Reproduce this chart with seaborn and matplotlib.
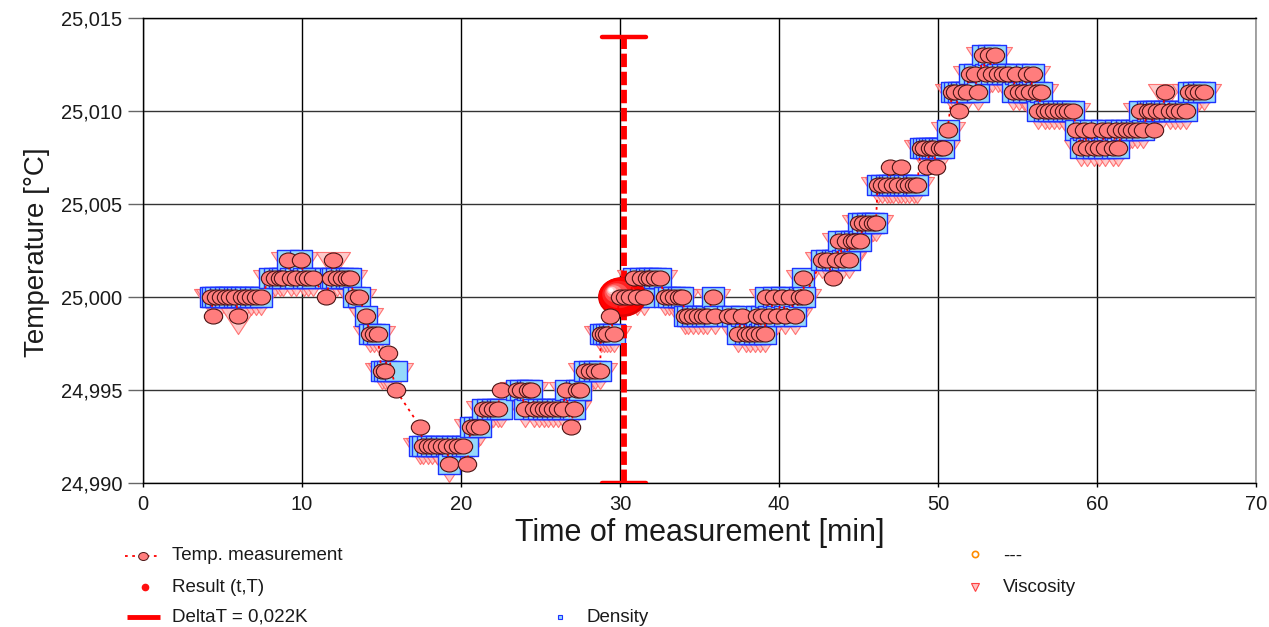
import numpy as np
import matplotlib
matplotlib.use("Agg")
import matplotlib.pyplot as plt
from matplotlib.path import Path
from matplotlib.transforms import offset_copy
import seaborn as sns

# ------------------------------------------------------------------
# Data (temperatures as mK offsets from 25 °C)
# ------------------------------------------------------------------
T_BASE = 25.0
times = [
    4.3, 4.4, 4.6, 4.9, 5.2, 5.5, 5.8, 6.0, 6.2, 6.5, 6.8, 7.1, 7.4,
    8.0, 8.3, 8.6, 8.8, 9.1, 9.3, 9.6, 9.95, 10.1, 10.4, 10.7,
    11.5, 11.8, 11.95, 12.2, 12.5, 12.8, 13.0, 13.3, 13.6,
    14.0, 14.3, 14.5, 14.75, 15.0, 15.2, 15.4, 15.9,
    17.45, 17.6, 17.9, 18.2, 18.5, 18.8, 19.1, 19.25, 19.5, 19.8, 20.1, 20.4,
    20.6, 20.9, 21.2, 21.4, 21.7, 22.0, 22.3, 22.5,
    23.5, 23.8, 24.0, 24.2, 24.4, 24.6, 24.9, 25.2, 25.5, 25.8, 26.1, 26.4,
    26.6, 26.9, 27.1, 27.3, 27.5, 27.8, 28.1, 28.4, 28.75,
    28.8, 29.0, 29.2, 29.4, 29.6,
    30.0, 30.3, 30.6, 30.9, 31.1, 31.3, 31.5, 31.7, 31.9, 32.2, 32.5,
    32.8, 33.1, 33.4, 33.7, 33.9,
    34.1, 34.3, 34.6, 34.9, 35.2, 35.5, 35.85, 36.0,
    36.8, 37.1, 37.4, 37.7, 37.9, 38.2, 38.5, 38.6, 38.8, 38.9, 39.1,
    39.2, 39.4, 39.7, 39.9, 40.2, 40.4, 40.7, 41.0, 41.3, 41.5, 41.6,
    42.7, 43.0, 43.4, 43.6, 43.8, 44.0, 44.2, 44.4, 44.6, 44.8,
    45.0, 45.1, 45.3, 45.6, 45.9, 46.1,
    46.2, 46.5, 46.8, 47.0, 47.2, 47.5, 47.7, 47.9, 48.2, 48.5, 48.7,
    48.9, 49.1, 49.3, 49.5, 49.7, 49.9, 50.1, 50.3, 50.6,
    50.9, 51.1, 51.3, 51.5, 51.8, 52.0, 52.3, 52.5,
    52.8, 53.0, 53.2, 53.4, 53.6, 53.8, 54.1, 54.4,
    54.7, 54.9, 55.1, 55.4, 55.6, 55.8, 56.0, 56.2,
    56.3, 56.5, 56.7, 57.0, 57.3, 57.6, 57.9, 58.2, 58.5,
    58.7, 59.0, 59.2, 59.4, 59.6, 59.8, 60.1, 60.3, 60.5, 60.7, 61.0, 61.2, 61.3,
    61.6, 61.9, 62.2, 62.5, 62.7, 62.9, 63.2, 63.4, 63.6, 63.8,
    64.1, 64.3, 64.6, 64.9, 65.2, 65.6, 65.8, 66.1, 66.4, 66.7,
]
temp_mk = [
    0, -1, 0, 0, 0, 0, 0, -1, 0, 0, 0, 0, 0,
    1, 1, 1, 1, 2, 1, 1, 2, 1, 1, 1,
    0, 1, 2, 1, 1, 1, 1, 0, 0,
    -1, -2, -2, -2, -4, -4, -3, -5,
    -7, -8, -8, -8, -8, -8, -8, -9, -8, -8, -8, -9,
    -7, -7, -7, -6, -6, -6, -6, -5,
    -5, -5, -6, -5, -5, -6, -6, -6, -6, -6, -6, -6,
    -5, -7, -6, -5, -5, -4, -4, -4, -4,
    -2, -2, -2, -1, -2,
    0, 0, 0, 1, 0, 1, 0, 1, 1, 1, 1,
    0, 0, 0, 0, 0,
    -1, -1, -1, -1, -1, -1, 0, -1,
    -1, -1, -2, -1, -2, -2, -2, -1, -2, -1, -2,
    0, -1, 0, -1, 0, -1, 0, -1, 0, 1, 0,
    2, 2, 1, 2, 3, 2, 3, 2, 3, 3,
    4, 3, 4, 4, 4, 4,
    6, 6, 6, 7, 6, 6, 7, 6, 6, 6, 6,
    8, 8, 7, 8, 8, 7, 8, 8, 9,
    11, 11, 10, 11, 11, 12, 12, 11,
    13, 12, 13, 12, 13, 12, 12, 12,
    11, 12, 11, 11, 12, 11, 12, 11,
    10, 11, 10, 10, 10, 10, 10, 10, 10,
    9, 8, 9, 8, 9, 8, 8, 9, 8, 9, 8, 9, 8,
    9, 9, 9, 9, 10, 9, 10, 10, 9, 10,
    10, 11, 10, 10, 10, 10, 11, 11, 11, 11,
]
density_mk = [
    0, 0, 0, 0, 0, 0, 0, 0, 0, 0, 0, 0, 0,
    1, 1, 1, 1, 2, 1, 1, 2, 1, 1, 1,
    1, 1, 1, 1, 1, 1, 1, 0, 0,
    -1, -2, -2, -2, -4, -4, -4, -4,
    -8, -8, -8, -8, -8, -8, -8, -9, -8, -8, -8, -8,
    -7, -7, -7, -6, -6, -6, -6, -6,
    -5, -5, -6, -5, -5, -6, -6, -6, -6, -6, -6, -6,
    -5, -6, -6, -5, -5, -4, -4, -4, -4,
    -2, -2, -2, -2, -2,
    0, 0, 0, 1, 0, 1, 0, 1, 1, 1, 1,
    0, 0, 0, 0, 0,
    -1, -1, -1, -1, -1, -1, 0, -1,
    -1, -1, -2, -1, -2, -2, -2, -1, -2, -1, -2,
    0, -1, 0, -1, 0, -1, 0, -1, 0, 1, 0,
    2, 2, 2, 2, 3, 2, 3, 2, 3, 3,
    4, 3, 4, 4, 4, 4,
    6, 6, 6, 6, 6, 6, 6, 6, 6, 6, 6,
    8, 8, 8, 8, 8, 8, 8, 8, 9,
    11, 11, 11, 11, 11, 12, 12, 11,
    13, 12, 13, 12, 13, 12, 12, 12,
    11, 12, 11, 11, 12, 11, 12, 11,
    10, 11, 10, 10, 10, 10, 10, 10, 10,
    9, 8, 9, 8, 9, 8, 8, 9, 8, 9, 8, 9, 8,
    9, 9, 9, 9, 10, 9, 10, 10, 10, 10,
    10, 10, 10, 10, 10, 10, 11, 11, 11, 11,
]
viscosity_mk = [
    0, 0, 0, 0, 0, 0, 0, -1, 0, 0, 0, 0, 0,
    1, 1, 1, 1, 2, 1, 1, 2, 1, 1, 1,
    1, 1, 2, 1, 1, 1, 1, 0, 0,
    -1, -2, -2, -2, -4, -4, -4, -4,
    -8, -8, -8, -8, -8, -8, -8, -9, -8, -8, -8, -8,
    -7, -7, -7, -6, -6, -6, -6, -6,
    -5, -5, -6, -5, -5, -6, -6, -6, -6, -6, -6, -6,
    -5, -6, -6, -5, -5, -4, -4, -4, -4,
    -2, -2, -2, -2, -2,
    0, 0, 0, 1, 0, 1, 0, 1, 1, 1, 1,
    0, 0, 0, 0, 0,
    -1, -1, -1, -1, -1, -1, 0, -1,
    -1, -1, -2, -1, -2, -2, -2, -1, -2, -1, -2,
    0, -1, 0, -1, 0, -1, 0, -1, 0, 1, 0,
    2, 2, 2, 2, 3, 2, 3, 2, 3, 3,
    4, 3, 4, 4, 4, 4,
    6, 6, 6, 6, 6, 6, 6, 6, 6, 6, 6,
    8, 8, 8, 8, 8, 8, 8, 8, 9,
    11, 11, 11, 11, 11, 12, 12, 11,
    13, 12, 13, 12, 13, 12, 12, 12,
    11, 12, 11, 11, 12, 11, 12, 11,
    10, 11, 10, 10, 10, 10, 10, 10, 10,
    9, 8, 9, 8, 9, 8, 8, 9, 8, 9, 8, 9, 8,
    9, 9, 9, 9, 10, 9, 10, 10, 10, 10,
    10, 11, 10, 10, 10, 10, 11, 11, 11, 11,
]

result_t, result_T = 30.15, 25.000
delta_time, delta_low, delta_high = 30.25, 24.990, 25.014
delta_label = "DeltaT = 0,022K"

x_ticks = [0, 10, 20, 30, 40, 50, 60, 70]
y_ticks = [24.990, 24.995, 25.000, 25.005, 25.010, 25.015]

temp = [T_BASE + v / 1000 for v in temp_mk]
density = [T_BASE + v / 1000 for v in density_mk]
viscosity = [T_BASE + v / 1000 for v in viscosity_mk]

# ------------------------------------------------------------------
# Style
# ------------------------------------------------------------------
sns.set_theme(style="white")
plt.rcParams["font.family"] = ["Liberation Sans", "DejaVu Sans"]
TXT = "#1a1a1a"

# marker shapes (ellipse circles, flat squares, wide triangles)
circ = Path.unit_circle()
ellipse = Path(circ.vertices * [1.0, 0.82], circ.codes)
rect = Path([(-1, -0.9), (1, -0.9), (1, 0.9), (-1, 0.9), (-1, -0.9)],
            [Path.MOVETO, Path.LINETO, Path.LINETO, Path.LINETO, Path.CLOSEPOLY])
tri = Path([(-1, 0.47), (1, 0.47), (0, -1.06), (-1, 0.47)],
           [Path.MOVETO, Path.LINETO, Path.LINETO, Path.CLOSEPOLY])

fig = plt.figure(figsize=(12.69, 6.27), dpi=100)
ax = fig.add_axes([143 / 1269, 1 - 483 / 627, 1113 / 1269, 465 / 627])

# viscosity triangles (back)
sns.scatterplot(x=times, y=viscosity, ax=ax, marker=tri, s=26 ** 2,
                color="#ffc2c2", edgecolor="#ff6060", linewidth=0.8,
                alpha=0.85, zorder=2, legend=False)
# density squares
sns.scatterplot(x=times, y=density, ax=ax, marker=rect, s=15.5 ** 2,
                color="#95d9fb", edgecolor="#1d33ff", linewidth=1.0,
                zorder=3, legend=False)

# DeltaT bar
ax.plot([delta_time, delta_time], [delta_low, delta_high], color="#ff0000",
        lw=4.2, dashes=(2.3, 0.8), solid_capstyle="butt", zorder=3.5)
for yv in (delta_low, delta_high):
    ax.plot([delta_time - 1.38, delta_time + 1.38], [yv, yv], color="#ff0000",
            lw=3.2, solid_capstyle="round", zorder=3.5)

# result ball with simple shading
ball_layers = [
    (0.0, 0.0, 35.0, "#e00000"),
    (-1.0, 1.0, 32.5, "#ff0000"),
    (-3.5, 2.5, 24.0, "#ff2020"),
    (-6.0, 4.0, 17.0, "#ff5555"),
    (-8.5, 5.5, 11.0, "#ff9090"),
    (-10.5, 6.5, 6.5, "#ffd0d0"),
    (-11.5, 7.0, 3.5, "#ffffff"),
]
for dx, dy, size, col in ball_layers:
    tr = offset_copy(ax.transData, fig=fig, x=dx, y=dy, units="dots")
    ax.scatter([result_t], [result_T], marker=ellipse, s=size ** 2, color=col,
               edgecolors="none", transform=tr, zorder=3.8)

# temperature measurement: dotted line + circles
sns.lineplot(x=times, y=temp, ax=ax, sort=False, estimator=None,
             color="#ff0000", lw=1.3, linestyle=(0, (1.5, 2.5)), zorder=4)
sns.scatterplot(x=times, y=temp, ax=ax, marker=ellipse, s=13.2 ** 2,
                color="#ff7d7d", edgecolor="#4a1414", linewidth=0.8,
                zorder=5, legend=False)

# axes
ax.set_xlim(0, 70)
ax.set_ylim(24.990, 25.015)
ax.set_xticks(x_ticks)
ax.set_yticks(y_ticks)
ax.set_xticklabels([str(v) for v in x_ticks])
ax.set_yticklabels([f"{v:.3f}".replace(".", ",") for v in y_ticks])
ax.tick_params(axis="y", length=11, width=1, color="#666666", pad=4,
               labelsize=14.5, labelcolor=TXT, left=True)
ax.tick_params(axis="x", length=3, width=1, color="#000000", pad=6,
               labelsize=14.5, labelcolor=TXT, bottom=True)
ax.grid(True, axis="x", color="#000000", lw=1)
ax.grid(True, axis="y", color="#333333", lw=1)
for side in ("left", "bottom", "top"):
    ax.spines[side].set_color("#000000")
    ax.spines[side].set_linewidth(1)
ax.spines["right"].set_color("#999999")
ax.set_xlabel("Time of measurement [min]", fontsize=22, color=TXT, va="center")
ax.xaxis.set_label_coords(0.5004, -0.1075)
ax.set_ylabel("Temperature [°C]", fontsize=20, color=TXT, va="center")
ax.yaxis.set_label_coords(-0.0952, 0.497)

# ------------------------------------------------------------------
# Legend below the plot (pixel coordinates)
# ------------------------------------------------------------------
lg = fig.add_axes([0, 0, 1, 1], zorder=-1)
lg.set_xlim(0, 1269)
lg.set_ylim(627, 0)
lg.axis("off")
LFS = 13.5

lg.plot([125, 161], [556, 556], color="#ff0000", lw=1.3, linestyle=(0, (1.5, 2.5)))
lg.plot([143], [556], marker=ellipse, ms=7, mfc="#ff7d7d", mec="#4a1414", mew=0.7)
lg.text(172, 556, "Temp. measurement", fontsize=LFS, color=TXT, va="center")

lg.plot([145], [587], marker="o", ms=4.5, mfc="#ff1010", mec="#ff1010")
lg.text(172, 587, "Result (t,T)", fontsize=LFS, color=TXT, va="center")

lg.plot([127, 160], [617, 617], color="#ff0000", lw=3.5, solid_capstyle="butt")
lg.text(172, 617, delta_label, fontsize=LFS, color=TXT, va="center")

lg.plot([560], [617], marker="s", ms=3.5, mfc="#95d9fb", mec="#1d33ff", mew=0.8)
lg.text(587, 617, "Density", fontsize=LFS, color=TXT, va="center")

lg.plot([975], [554], marker="o", ms=4.5, mfc="white", mec="#ff8c00", mew=1.2)
lg.text(1003, 556, "---", fontsize=LFS, color=TXT, va="center")

lg.plot([975], [587], marker="v", ms=6, mfc="#ffc2c2", mec="#ff4040", mew=0.8)
lg.text(1003, 587, "Viscosity", fontsize=LFS, color=TXT, va="center")

fig.savefig("out.png", dpi=100)
